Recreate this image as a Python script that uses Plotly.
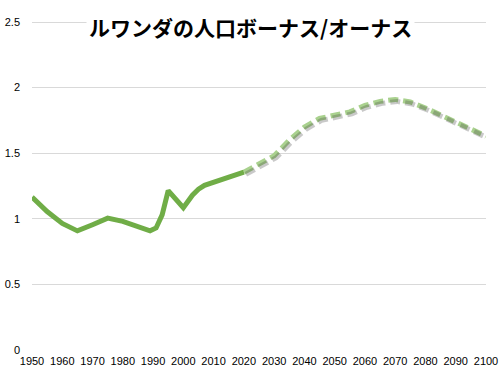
import plotly.graph_objects as go

# Observed (solid) series
hist_years = [1950, 1955, 1960, 1965, 1970, 1975, 1980, 1985, 1989, 1991, 1993,
              1995, 1996, 2000, 2003, 2005, 2007, 2010, 2015, 2020]
hist_values = [1.165, 1.055, 0.965, 0.908, 0.955, 1.005, 0.98, 0.945, 0.908, 0.93, 1.03,
               1.215, 1.19, 1.085, 1.18, 1.225, 1.255, 1.28, 1.32, 1.355]

# Projection (dashed) series
proj_years = [2020, 2025, 2030, 2035, 2040, 2045, 2050, 2055, 2060, 2065,
              2070, 2075, 2080, 2085, 2090, 2095, 2100]
proj_values = [1.355, 1.42, 1.48, 1.60, 1.70, 1.765, 1.79, 1.815, 1.865, 1.895,
               1.91, 1.89, 1.845, 1.79, 1.735, 1.68, 1.63]

x_ticks = list(range(1950, 2101, 10))
y_ticks = [0, 0.5, 1, 1.5, 2, 2.5]
title_text = "ルワンダの人口ボーナス/オーナス"

fig = go.Figure()

# shadow of projection (on offset overlay axes)
fig.add_trace(go.Scatter(x=proj_years, y=proj_values, mode="lines",
                         line=dict(color="rgba(60,60,60,0.28)", width=5, dash="10px,5px"),
                         xaxis="x2", yaxis="y2", hoverinfo="skip", showlegend=False))
fig.add_trace(go.Scatter(x=proj_years, y=proj_values, mode="lines",
                         line=dict(color="#A9D18E", width=5, dash="10px,5px"),
                         showlegend=False))
fig.add_trace(go.Scatter(x=hist_years, y=hist_values, mode="lines",
                         line=dict(color="#70AD47", width=5),
                         showlegend=False))

px_per_year = 454 / 150
px_per_unit = 328 / 2.5
dx = 2 / px_per_year
dy = 2 / px_per_unit
head_px = 4
y_top = 2.5 + head_px / px_per_unit  # headroom so the 2.5 gridline is drawn

tick_font = dict(family="Liberation Sans, Arial, sans-serif", size=11, color="#000000")

fig.update_layout(
    width=504, height=375,
    margin=dict(l=32, r=18, t=22 - head_px, b=25, autoexpand=False),
    paper_bgcolor="white", plot_bgcolor="white",
    xaxis=dict(range=[1950, 2100], tickvals=x_ticks, ticktext=[str(v) for v in x_ticks],
               showgrid=False, zeroline=False, showline=False, ticks="",
               tickfont=tick_font, ticklabelstandoff=3, automargin=False),
    yaxis=dict(range=[0, y_top], tickvals=y_ticks, ticktext=["0", "0.5", "1", "1.5", "2", "2.5"],
               showgrid=True, gridcolor="#D9D9D9", gridwidth=1, zeroline=False,
               showline=False, ticks="", tickfont=tick_font, ticklabelstandoff=11,
               automargin=False),
    xaxis2=dict(range=[1950 - dx, 2100 - dx], overlaying="x", visible=False, automargin=False),
    yaxis2=dict(range=[0 + dy, y_top + dy], overlaying="y", visible=False, automargin=False),
    annotations=[dict(text="<b>" + title_text + "</b>", xref="paper", yref="paper",
                      x=0.482, y=0.972, xanchor="center", yanchor="middle",
                      showarrow=False, bgcolor="white", borderpad=2,
                      font=dict(family="Noto Sans CJK JP", size=21, color="#000000"))],
)

# remove the browser's default 8px page margin so the figure fills the window
fig.write_html("out.html",
               config={"displayModeBar": False},
               post_script="document.body.style.margin='0px';document.body.style.overflow='hidden';")
